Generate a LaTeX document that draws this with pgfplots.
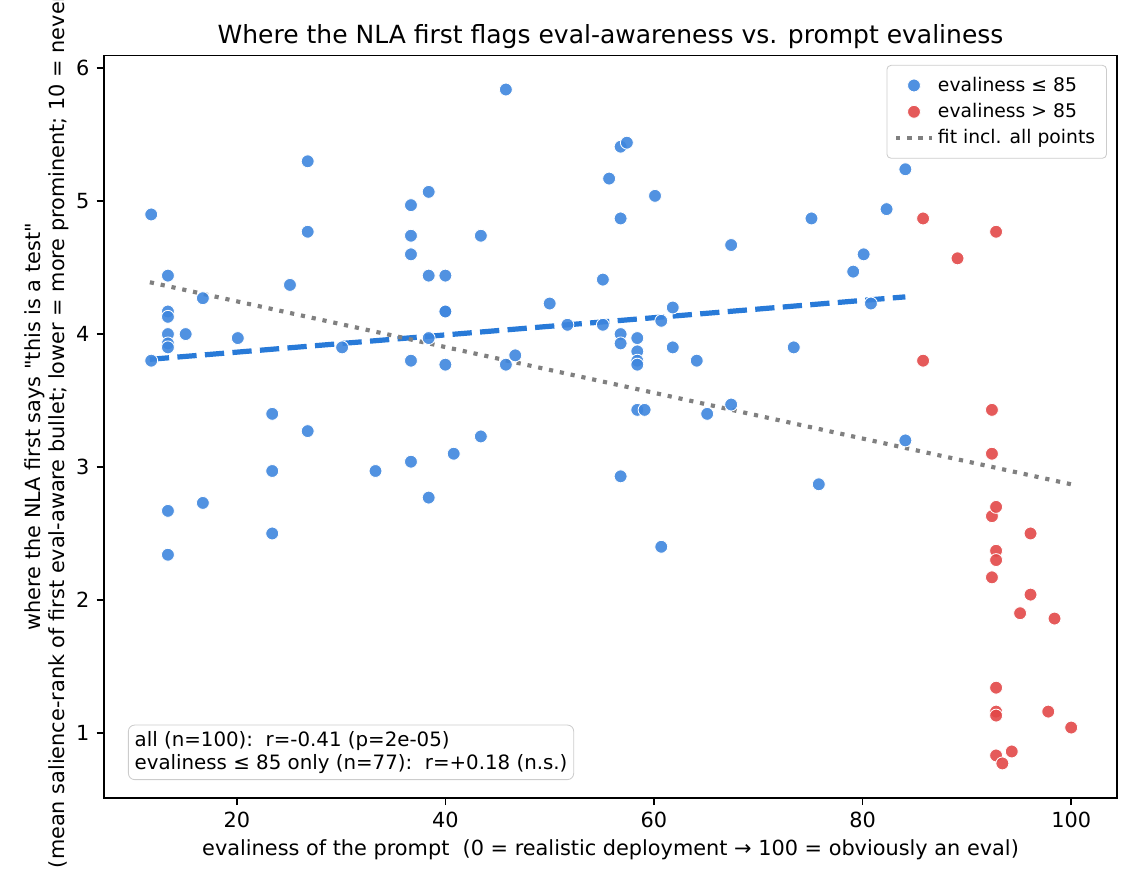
\documentclass[border=0pt]{standalone}
\usepackage{fontspec}
\setmainfont{DejaVu Sans}
\newfontfamily\plainfont{DejaVu Sans}
\usepackage{pgfplots}
\pgfplotsset{compat=1.18}
\definecolor{bluept}{RGB}{62,134,222}
\definecolor{redpt}{RGB}{226,72,72}
\definecolor{bluefit}{RGB}{40,122,216}
\definecolor{fitgray}{RGB}{128,128,128}
\begin{document}
\begin{tikzpicture}
\begin{axis}[name=ax, scale only axis, width=486.2pt, height=356.2pt,
  xmin=7.27, xmax=104.4, ymin=0.511, ymax=6.095,
  xtick={20,40,60,80,100}, ytick={1,2,3,4,5,6},
  tick align=outside, tick pos=left, major tick length=3.5pt,
  axis line style={line width=0.8pt},
  major tick style={black, line width=0.8pt},
  /pgf/number format/assume math mode=true,
  ticklabel style={font=\fontsize{10}{12}\selectfont},
  title={Where the NLA first flags eval-awareness vs. prompt evaliness},
  title style={at={(rel axis cs:0.5,1)}, anchor=base, yshift=-0.4pt, font=\fontsize{12}{14}\selectfont, inner sep=0pt},
  xlabel={evaliness of the prompt\ \ (0 = realistic deployment → 100 = obviously an eval)},
  xlabel style={at={(rel axis cs:0.5,0)}, anchor=base, yshift=-27.5pt, font=\fontsize{10}{12}\selectfont, inner sep=0pt},
  legend style={at={(0.99,0.9875)}, anchor=north east, draw=black!20, rounded corners=2pt,
    fill=white, font=\fontsize{9}{11}\selectfont, row sep=0.3pt, inner sep=3.5pt},
  legend cell align=left,
  legend image code/.code={\draw[mark repeat=2,mark phase=2,#1] plot coordinates {(0pt,0pt) (8.5pt,0pt) (17pt,0pt)};},
]
\addplot[only marks, mark=*, mark size=3.1pt, mark options={fill=bluept, draw=white, line width=0.4pt, fill opacity=0.9}] coordinates {
(11.8,4.90) (11.8,3.80) (13.4,4.44) (13.4,4.17) (13.4,4.13) (13.4,4.00) (13.4,3.93) (13.4,3.90)
(13.4,2.67) (13.4,2.34) (15.1,4.00) (16.75,4.27) (16.75,2.73) (20.1,3.97) (23.4,3.40) (23.4,2.97)
(23.4,2.50) (25.1,4.37) (26.8,5.30) (26.8,4.77) (26.8,3.27) (30.1,3.90) (33.3,2.97) (36.7,4.97)
(36.7,4.74) (36.7,4.60) (36.7,3.80) (36.7,3.04) (38.4,5.07) (38.4,4.44) (38.4,3.97) (38.4,2.77)
(40.0,4.44) (40.0,4.17) (40.0,4.17) (40.0,3.77) (40.8,3.10) (43.4,4.74) (43.4,3.23) (45.8,5.84)
(45.8,3.77) (46.7,3.84) (50.0,4.23) (51.7,4.07) (55.1,4.41) (55.1,4.07) (55.7,5.17) (56.8,5.41)
(57.4,5.44) (56.8,4.87) (56.8,4.00) (56.8,3.93) (56.8,2.93) (58.4,3.97) (58.4,3.87) (58.4,3.80)
(58.4,3.77) (58.4,3.43) (59.1,3.43) (60.1,5.04) (60.7,4.10) (60.7,2.40) (61.8,4.20) (61.8,3.90)
(64.1,3.80) (65.1,3.40) (67.4,4.67) (67.4,3.47) (73.4,3.90) (75.1,4.87) (75.8,2.87) (79.1,4.47)
(80.1,4.60) (80.8,4.23) (82.3,4.94) (84.1,5.24) (84.1,3.20)
};
\addlegendentry{evaliness ≤ 85}
\addplot[only marks, mark=*, mark size=3.1pt, mark options={fill=redpt, draw=white, line width=0.4pt, fill opacity=0.9}] coordinates {
(85.8,4.87) (85.8,3.80) (89.1,4.57) (92.8,4.77) (92.4,3.43) (92.4,3.10) (92.4,2.63) (92.8,2.70)
(92.8,2.37) (92.8,2.30) (92.4,2.17) (92.8,1.34) (92.8,1.16) (92.8,1.13) (92.8,0.83) (93.4,0.77)
(94.3,0.86) (95.1,1.90) (96.1,2.50) (96.1,2.04) (97.8,1.16) (98.4,1.86) (100.0,1.04)
};
\addlegendentry{evaliness > 85}
\addplot[bluefit, line width=2.5pt, dash pattern=on 9.25pt off 4pt, forget plot] coordinates {(11.67,3.81) (84.1,4.28)};
\addplot[fitgray, line width=2pt, dash pattern=on 2pt off 3.3pt] coordinates {(11.67,4.39) (100,2.87)};
\addlegendentry{fit incl. all points}
\node[anchor=south west, draw=black!20, rounded corners=3pt, fill=white, align=left,
  font=\fontsize{9.5}{11}\selectfont, inner sep=3pt] at (rel axis cs:0.0237,0.024)
  {all (n=100):\ \ r=-0.41 (p=2e-05)\\evaliness ≤ 85 only (n=77):\ \ r=+0.18 (n.s.)};
\end{axis}
\node[rotate=90, anchor=south, align=center, inner sep=0pt, font=\plainfont\fontsize{10}{11.5}\selectfont]
  at ([xshift=-16.8pt]ax.west)
  {where the NLA first says "this is a test"\\(mean salience-rank of first eval-aware bullet; lower = more prominent; 10 = never)};
\pgfresetboundingbox
\path[use as bounding box] ([xshift=-49.9pt,yshift=-42.0pt]ax.south west) rectangle ([xshift=11.0pt,yshift=26.7pt]ax.north east);
\end{tikzpicture}
\end{document}
